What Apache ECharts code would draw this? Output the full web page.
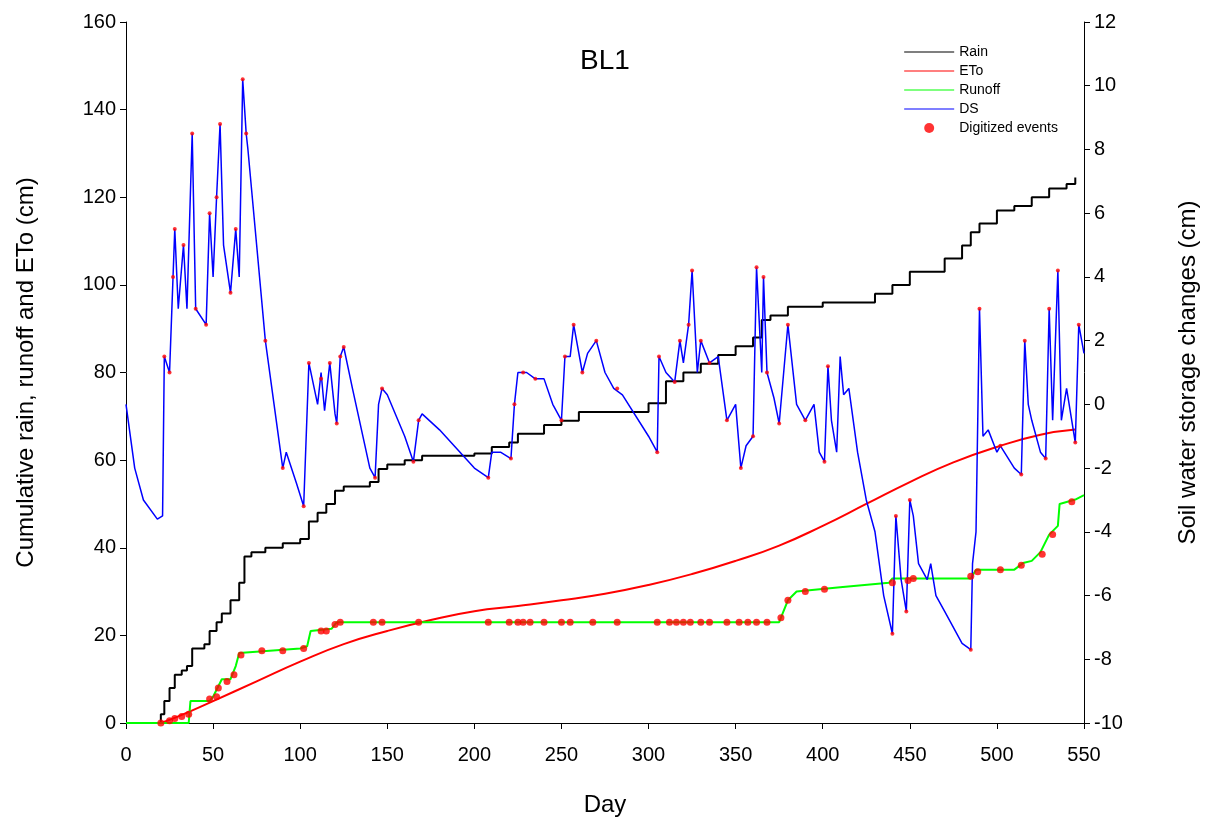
<!DOCTYPE html><html><head><meta charset="utf-8">
<script src="https://cdn.jsdelivr.net/npm/echarts@6/dist/echarts.min.js"></script>
<style>html,body{margin:0;background:#fff}#c{width:1208px;height:828px}</style></head><body><div id="c"></div>
<script>
const rain=[[0,0],[18,0],[20,2],[22,5],[25,8],[28,11],[32,12],[35,13],[38,17],[45,18],[48,21],[52,23],[55,25],[60,28],[65,32],[68,38],[72,39],[80,40],[90,41],[100,42],[105,46],[110,48],[115,50],[120,53],[125,54],[140,55],[145,58],[150,59],[160,60],[170,61],[200,61.5],[210,63],[220,64],[225,66],[240,68],[250,69],[260,71],[300,73],[305,73],[310,78],[320,80],[330,82],[340,84],[350,86],[360,88],[365,92],[370,93],[380,95],[400,96],[430,98],[440,100],[450,103],[470,106],[480,109],[485,112],[490,114],[500,117],[510,118],[520,120],[530,122],[540,123],[545,124.5]];
const eto=[[20,0],[30,1.5],[50,5],[75,9.5],[100,14],[125,18],[150,21],[175,23.5],[200,25.5],[225,26.7],[250,28],[275,29.5],[300,31.5],[325,34],[350,37],[375,40.5],[400,45],[425,50],[450,55],[475,59.5],[500,63],[525,65.8],[545,67]];
const runoff=[[0,0],[36,0],[37,5],[48,5],[50,6],[55,10],[60,10],[63,13],[65,16],[100,17],[104,17.5],[106,21],[118,21.5],[121,23],[375,23],[377,25],[380,28],[385,30],[410,31],[438,32],[440,33],[485,33],[488,35],[510,35],[515,36.5],[520,37],[525,39],[530,43],[535,45],[536,50],[545,51],[550,52]];
const ds=[[0,0],[5,-2],[10,-3],[18,-3.6],[21,-3.5],[22,1.5],[25,1],[27,4],[28,5.5],[30,3],[33,5],[35,3],[38,8.5],[40,3],[46,2.5],[48,6],[50,4],[52,6.5],[54,8.8],[56,5],[60,3.5],[63,5.5],[65,4],[67,10.2],[69,8.5],[70,8],[75,5],[80,2],[85,0],[90,-2],[92,-1.5],[98,-2.5],[102,-3.2],[105,1.3],[110,0],[112,1],[114,-0.2],[117,1.3],[120,-0.3],[121,-0.6],[123,1.5],[125,1.8],[130,0.5],[140,-2],[143,-2.3],[145,0],[147,0.5],[150,0.3],[160,-1],[165,-1.8],[168,-0.5],[170,-0.3],[180,-0.8],[200,-2],[208,-2.3],[210,-1.5],[215,-1.5],[221,-1.7],[223,0],[225,1],[230,1],[235,0.8],[240,0.8],[245,0],[250,-0.5],[252,1.5],[255,1.5],[257,2.5],[262,1],[265,1.6],[270,2],[275,1],[280,0.5],[285,0.3],[300,-1],[305,-1.5],[306,1.5],[310,1],[315,0.7],[318,2],[320,1.3],[323,2.5],[325,4.2],[328,1],[330,2],[335,1.3],[340,1.5],[345,-0.5],[350,0],[353,-2],[356,-1.3],[360,-1],[362,4.3],[365,1],[366,4],[368,1],[372,0.2],[375,-0.6],[380,2.5],[385,0],[390,-0.5],[395,0],[398,-1.5],[401,-1.8],[403,1.2],[405,-0.5],[408,-1.5],[410,1.5],[412,0.3],[415,0.5],[420,-1.5],[425,-3],[430,-4],[435,-6],[440,-7.2],[442,-3.5],[445,-5.5],[448,-6.5],[450,-3],[452,-3.5],[455,-5],[460,-5.5],[462,-5],[465,-6],[470,-6.5],[480,-7.5],[485,-7.7],[486,-5],[488,-4],[490,3],[492,-1],[495,-0.8],[500,-1.5],[502,-1.3],[510,-2],[514,-2.2],[516,2],[518,0],[520,-0.5],[525,-1.5],[528,-1.7],[530,3],[532,-0.5],[535,4.2],[537,-0.5],[540,0.5],[545,-1.2],[547,2.5],[550,1.6]];
const evRunoff=[[20,0],[25,0.5],[28,1],[32,1.5],[36,2],[48,5.5],[52,6],[53,8],[58,9.5],[62,11],[66,15.5],[78,16.5],[90,16.5],[102,17],[112,21],[115,21],[120,22.5],[123,23],[142,23],[147,23],[168,23],[208,23],[220,23],[225,23],[228,23],[232,23],[240,23],[250,23],[255,23],[268,23],[282,23],[305,23],[312,23],[316,23],[320,23],[324,23],[330,23],[335,23],[345,23],[352,23],[357,23],[362,23],[368,23],[376,24],[380,28],[390,30],[401,30.5],[440,32],[449,32.5],[452,33],[485,33.5],[489,34.5],[502,35],[514,36],[526,38.5],[532,43],[543,50.5]];
const evDs=[[22,1.5],[25,1],[27,4],[28,5.5],[33,5],[38,8.5],[40,3],[46,2.5],[48,6],[52,6.5],[54,8.8],[60,3.5],[63,5.5],[67,10.2],[69,8.5],[80,2],[90,-2],[102,-3.2],[105,1.3],[112,0.8],[117,1.3],[121,-0.6],[123,1.5],[125,1.8],[143,-2.3],[147,0.5],[165,-1.8],[168,-0.5],[208,-2.3],[221,-1.7],[223,0],[228,1],[235,0.8],[250,-0.5],[252,1.5],[257,2.5],[262,1],[270,2],[282,0.5],[305,-1.5],[306,1.5],[315,0.7],[318,2],[323,2.5],[325,4.2],[330,2],[335,1.3],[345,-0.5],[353,-2],[360,-1],[362,4.3],[366,4],[368,1],[375,-0.6],[380,2.5],[390,-0.5],[401,-1.8],[403,1.2],[440,-7.2],[442,-3.5],[448,-6.5],[450,-3],[485,-7.7],[490,3],[502,-1.3],[514,-2.2],[516,2],[528,-1.7],[530,3],[535,4.2],[545,-1.2],[547,2.5]];
const F='"Liberation Sans",Arial,sans-serif';
const ax={axisLine:{show:true,lineStyle:{color:'#000'}},axisTick:{show:true,inside:false,length:6,lineStyle:{color:'#000'}},axisLabel:{color:'#000',fontSize:20,fontFamily:F,margin:10},splitLine:{show:false}};
const c=echarts.init(document.getElementById('c'));
c.setOption({animation:false,
title:{text:'BL1',left:600,top:42,textAlign:'center',textStyle:{fontSize:28,fontWeight:'normal',fontFamily:F,color:'#000'}},
grid:{left:126,right:123,top:22,bottom:105},
legend:{orient:'vertical',right:145,top:40,itemGap:5,itemWidth:50,itemHeight:10,textStyle:{fontSize:14,fontFamily:F,color:'#000'},
 data:[{name:'Rain',icon:'path://M0,5L50,5L50,6L0,6Z'},{name:'ETo',icon:'path://M0,5L50,5L50,6L0,6Z'},{name:'Runoff',icon:'path://M0,5L50,5L50,6L0,6Z'},{name:'DS',icon:'path://M0,5L50,5L50,6L0,6Z'},{name:'Digitized events',icon:'circle',itemStyle:{color:'#f00'}}]},
xAxis:Object.assign({type:'value',min:0,max:550,interval:50,name:'Day',nameLocation:'middle',nameGap:70,nameTextStyle:{fontSize:24,fontFamily:F,color:'#000'}},ax,{axisLabel:{color:'#000',fontSize:20,fontFamily:F,margin:22},axisLine:{show:true,onZero:false,lineStyle:{color:'#000'}}}),
yAxis:[Object.assign({type:'value',min:0,max:160,interval:20,name:'Cumulative rain, runoff and ETo (cm)',nameLocation:'middle',nameGap:88,nameTextStyle:{fontSize:24,fontFamily:F,color:'#000'}},ax),
 Object.assign({type:'value',min:-10,max:12,interval:2,position:'right',name:'Soil water storage changes (cm)',nameLocation:'middle',nameGap:92,nameRotate:90,nameTextStyle:{fontSize:24,fontFamily:F,color:'#000'}},ax)],
series:[
{name:'Rain',type:'line',data:rain,showSymbol:false,lineStyle:{color:'#000',width:2},itemStyle:{color:'#000'},step:'end'},
{name:'ETo',type:'line',data:eto,smooth:true,showSymbol:false,lineStyle:{color:'#f00',width:2},itemStyle:{color:'#f00'}},
{name:'Runoff',type:'line',data:runoff,showSymbol:false,lineStyle:{color:'#0f0',width:2},itemStyle:{color:'#0f0'}},
{name:'DS',type:'line',yAxisIndex:1,data:ds,showSymbol:false,lineStyle:{color:'#00f',width:1.5},itemStyle:{color:'#00f'}},
{name:'Digitized events',type:'scatter',data:evRunoff,symbolSize:7,itemStyle:{color:'#f00'},z:5},
{name:'Digitized events',type:'scatter',yAxisIndex:1,data:evDs,symbolSize:4,itemStyle:{color:'#f00'},z:5}
]});
</script></body></html>
